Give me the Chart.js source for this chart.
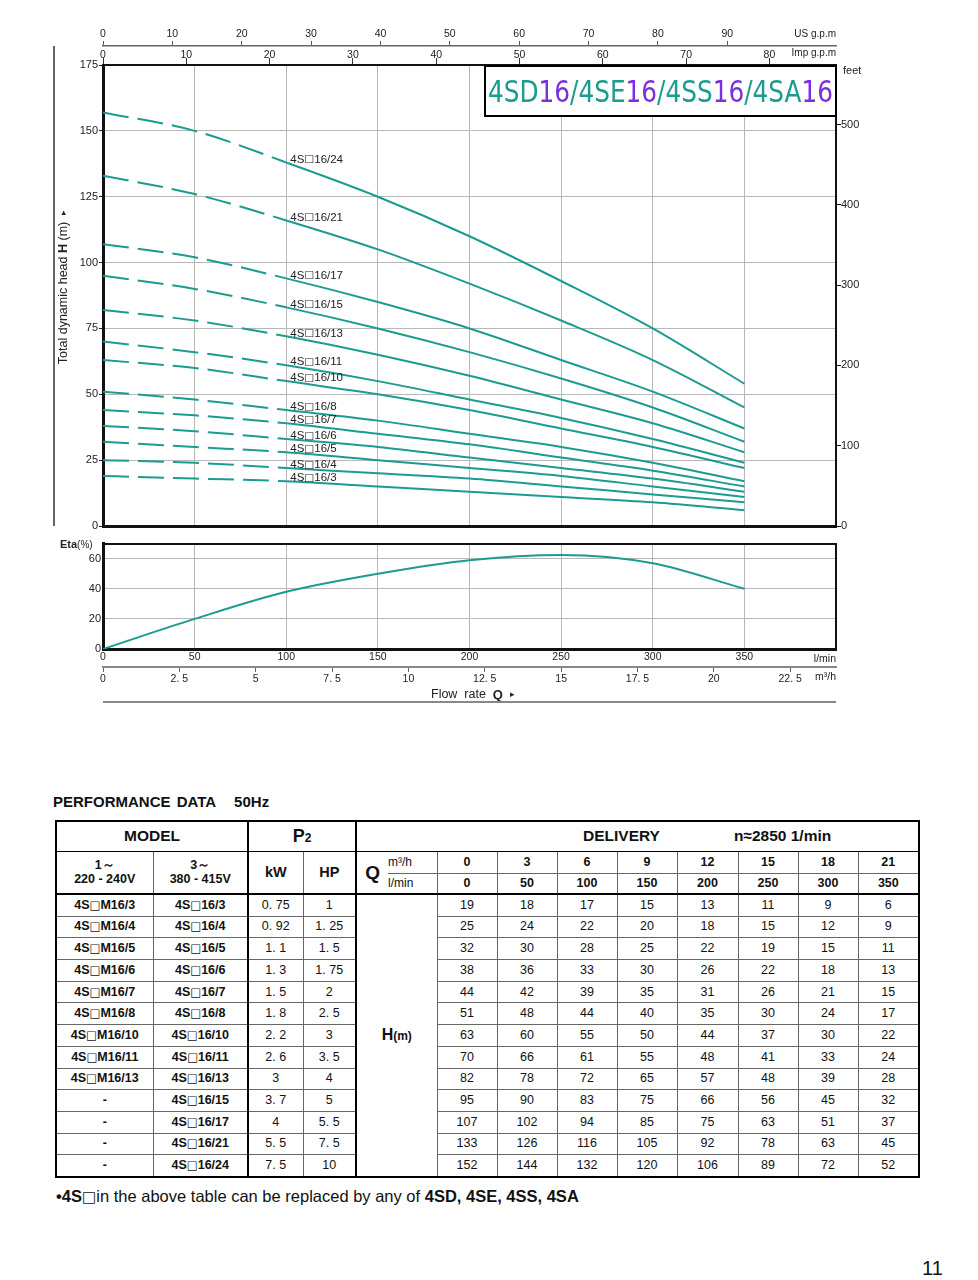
<!DOCTYPE html>
<html>
<head>
<meta charset="utf-8">
<script src="https://cdn.jsdelivr.net/npm/chart.js@4.4.1/dist/chart.umd.min.js"></script>
<style>
body { margin: 0; background: #fff; width: 978px; height: 1280px; position: relative; overflow: hidden;
  font-family: "Liberation Sans", Arial, sans-serif; color: #111; }
canvas { position: absolute; left: 0; }
#head { top: 0; }
#eta { top: 535px; }
.perf { position: absolute; left: 53px; top: 793px; font-weight: bold; font-size: 15px; word-spacing: 2px; }
.perf span { margin-left: 18px; }
table { position: absolute; left: 55px; top: 820px; width: 863px; border-collapse: collapse; table-layout: fixed; border: 2px solid #000; }
td { border: 1px solid #666; text-align: center; padding: 0; font-size: 12.5px; line-height: 1.05; white-space: nowrap; overflow: hidden; }
td.b { font-weight: bold; }
td.thick { border-right: 2px solid #000; }
tr.h1 td { font-weight: bold; font-size: 15.5px; height: 29px; border-bottom: 1px solid #000; }
tr.h2 td { height: 21px; }
tr.h3 td { height: 19px; border-bottom: 2px solid #000; }
tr.d td { height: 20.7px; }
.sq { font-family: "DejaVu Sans", sans-serif; font-weight: normal; font-size: 0.92em; }
.note { position: absolute; left: 56px; top: 1187px; font-size: 16.5px; }
.page { position: absolute; left: 922px; top: 1257px; font-size: 20px; }
</style>
</head>
<body>
<canvas id="head" width="978" height="535"></canvas>
<canvas id="eta" width="978" height="175"></canvas>

<div class="perf">PERFORMANCE DATA<span>50Hz</span></div>
<table id="perf"></table>
<div class="note"><b>•4S</b><span class="sq">□</span>in the above table can be replaced by any of <b>4SD, 4SE, 4SS, 4SA</b></div>
<div class="page">11</div>

<script>
// flow points (table columns)
const flowLmin = [0, 50, 100, 150, 200, 250, 300, 350];
const flowM3h = [0, 3, 6, 9, 12, 15, 18, 21];

const models3ph = ["4S□16/3", "4S□16/4", "4S□16/5", "4S□16/6", "4S□16/7", "4S□16/8", "4S□16/10",
  "4S□16/11", "4S□16/13", "4S□16/15", "4S□16/17", "4S□16/21", "4S□16/24"];
const models1ph = ["4S□M16/3", "4S□M16/4", "4S□M16/5", "4S□M16/6", "4S□M16/7", "4S□M16/8", "4S□M16/10",
  "4S□M16/11", "4S□M16/13", "-", "-", "-", "-"];
const powerKW = [0.75, 0.92, 1.1, 1.3, 1.5, 1.8, 2.2, 2.6, 3, 3.7, 4, 5.5, 7.5];
const powerHP = [1, 1.25, 1.5, 1.75, 2, 2.5, 3, 3.5, 4, 5, 5.5, 7.5, 10];

// H (m) per model
const head_3 = [19, 18, 17, 15, 13, 11, 9, 6];
const head_4 = [25, 24, 22, 20, 18, 15, 12, 9];
const head_5 = [32, 30, 28, 25, 22, 19, 15, 11];
const head_6 = [38, 36, 33, 30, 26, 22, 18, 13];
const head_7 = [44, 42, 39, 35, 31, 26, 21, 15];
const head_8 = [51, 48, 44, 40, 35, 30, 24, 17];
const head_10 = [63, 60, 55, 50, 44, 37, 30, 22];
const head_11 = [70, 66, 61, 55, 48, 41, 33, 24];
const head_13 = [82, 78, 72, 65, 57, 48, 39, 28];
const head_15 = [95, 90, 83, 75, 66, 56, 45, 32];
const head_17 = [107, 102, 94, 85, 75, 63, 51, 37];
const head_21 = [133, 126, 116, 105, 92, 78, 63, 45];
const head_24 = [152, 144, 132, 120, 106, 89, 72, 52];
// the /24 curve on the graph runs a bit above its table row
const curve_24 = [157, 150, 138, 125, 110, 93, 75, 54];

// efficiency curve
const etaValues = [0, 20, 38, 50, 59, 62.5, 57, 40];

const tableRows = [head_3, head_4, head_5, head_6, head_7, head_8, head_10, head_11, head_13, head_15, head_17, head_21, head_24];
const curveRows = [head_3, head_4, head_5, head_6, head_7, head_8, head_10, head_11, head_13, head_15, head_17, head_21, curve_24];

const TEAL = "#1c9b91";
const PURPLE = "#7a2fe0";
const GRID = "#b8b8b8";
const FONT = '"Liberation Sans", Arial, sans-serif';
const tickFont = { family: FONT, size: 11 };
const fmt = v => String(v).replace(".", ". ");
const sq = s => s.replace("□", '<span class="sq">□</span>');

Chart.defaults.animation = false;
Chart.defaults.responsive = false;
Chart.defaults.plugins.legend.display = false;
Chart.defaults.plugins.tooltip.enabled = false;
Chart.defaults.color = "#222";

// ---------- head chart ----------
const headSets = curveRows.map((row, i) => ({
  label: models3ph[i],
  data: flowLmin.map((q, k) => ({ x: q, y: row[k] })),
  borderColor: TEAL,
  borderWidth: 2,
  pointRadius: 0,
  cubicInterpolationMode: "monotone",
  segment: { borderDash: c => c.p0.parsed.x < 100 ? [26, 9] : undefined }
}));

const headDeco = {
  id: "headDeco",
  afterDatasetsDraw(chart) {
    const { ctx, scales: { x, y } } = chart;
    ctx.save();
    ctx.fillStyle = "#222";
    ctx.textBaseline = "middle";
    chart.data.datasets.forEach(ds => {
      const p = ds.data[2];
      let lx = x.getPixelForValue(p.x) + 4;
      const ly = y.getPixelForValue(p.y) - 3;
      // the box glyph comes from DejaVu so it has its full size
      ds.label.split(/(□)/).forEach(part => {
        ctx.font = part === "□" ? '10.5px "DejaVu Sans", sans-serif' : "11.5px " + FONT;
        ctx.fillText(part, lx, ly);
        lx += ctx.measureText(part).width;
      });
    });
    ctx.restore();
  },
  afterDraw(chart) {
    const { ctx, chartArea: a } = chart;
    ctx.save();
    // title box
    const bx = 485, bw = a.right - 485, bh = 51;
    ctx.fillStyle = "#fff";
    ctx.fillRect(bx, a.top, bw, bh);
    ctx.strokeStyle = "#000";
    ctx.lineWidth = 2;
    ctx.strokeRect(bx, a.top + 1, bw, bh - 1);
    const parts = [["4SD", TEAL], ["16", PURPLE], ["/4SE", TEAL], ["16", PURPLE], ["/4SS", TEAL], ["16", PURPLE], ["/4SA", TEAL], ["16", PURPLE]];
    ctx.font = '30px "DejaVu Sans Condensed", "DejaVu Sans", sans-serif';
    const total = parts.reduce((s, p) => s + ctx.measureText(p[0]).width, 0);
    const sx = (bw - 6) / total;
    ctx.translate(bx + 3, a.top + 37);
    ctx.scale(sx, 1);
    let cx = 0;
    ctx.textBaseline = "alphabetic";
    parts.forEach(p => { ctx.fillStyle = p[1]; ctx.fillText(p[0], cx, 0); cx += ctx.measureText(p[0]).width; });
    ctx.restore();

    ctx.save();
    ctx.fillStyle = "#222";
    ctx.font = "10px " + FONT;
    ctx.textAlign = "right";
    ctx.textBaseline = "middle";
    ctx.fillText("US g.p.m", a.right, 34);
    ctx.fillText("Imp g.p.m", a.right, 53);
    ctx.textAlign = "left";
    ctx.font = "11px " + FONT;
    ctx.fillText("feet", a.right + 7, 71);
    // decorative left rule
    ctx.strokeStyle = "#333";
    ctx.lineWidth = 1.5;
    ctx.beginPath(); ctx.moveTo(54, 46); ctx.lineTo(54, a.bottom); ctx.stroke();
    // rotated axis title
    ctx.translate(64, 287);
    ctx.rotate(-Math.PI / 2);
    const tp = [["Total dynamic head ", "12.5px " + FONT], ["H", "bold 12.5px " + FONT], [" (m)  ", "12.5px " + FONT], ["▸", "9px " + FONT]];
    let w = 0;
    tp.forEach(p => { ctx.font = p[1]; w += ctx.measureText(p[0]).width; });
    let tx = -w / 2;
    tp.forEach(p => { ctx.font = p[1]; ctx.fillText(p[0], tx, 0); tx += ctx.measureText(p[0]).width; });
    ctx.restore();
  }
};

new Chart(document.getElementById("head"), {
  type: "line",
  data: { datasets: headSets },
  options: {
    layout: { padding: { top: 25, bottom: 9, left: 0, right: 0 } },
    scales: {
      x: {
        type: "linear", position: "bottom", min: 0, max: 400,
        ticks: { display: false, stepSize: 50 },
        grid: { color: GRID, drawTicks: false },
        border: { color: "#111", width: 3 },
        afterFit: s => { s.height = 0; }
      },
      y: {
        type: "linear", position: "left", min: 0, max: 175,
        ticks: { stepSize: 25, font: tickFont, padding: 1 },
        grid: { color: GRID, tickColor: "#222", tickLength: 4 },
        border: { color: "#111", width: 3 },
        afterFit: s => { s.width = 103; }
      },
      yFeet: {
        type: "linear", position: "right", min: 0, max: 175 * 3.28084,
        ticks: { stepSize: 100, includeBounds: false, font: tickFont, padding: 0 },
        grid: { drawOnChartArea: false, tickColor: "#111", tickLength: 5 },
        border: { color: "#111", width: 2 },
        afterFit: s => { s.width = 142; }
      },
      xImp: {
        type: "linear", position: "top", weight: 1, min: 0, max: 400 / 4.54609,
        ticks: { stepSize: 10, includeBounds: false, font: { family: FONT, size: 10.5 }, padding: -3 },
        afterBuildTicks: s => { s.ticks = s.ticks.filter(t => t.value <= 80); },
        grid: { drawOnChartArea: false, tickColor: "#333", tickLength: 7 },
        border: { color: "#111", width: 2 },
        afterFit: s => { s.height = 19; }
      },
      xUS: {
        type: "linear", position: "top", weight: 2, min: 0, max: 400 / 3.78541,
        ticks: { stepSize: 10, includeBounds: false, font: { family: FONT, size: 10.5 }, padding: 1 },
        afterBuildTicks: s => { s.ticks = s.ticks.filter(t => t.value <= 90); },
        grid: { drawOnChartArea: false, tickColor: "#555", tickLength: 5 },
        border: { color: "#666", width: 1.5 },
        afterFit: s => { s.height = 21; }
      }
    }
  },
  plugins: [headDeco]
});

// ---------- efficiency chart ----------
const etaDeco = {
  id: "etaDeco",
  afterDraw(chart) {
    const { ctx, chartArea: a } = chart;
    ctx.save();
    ctx.fillStyle = "#222";
    ctx.textBaseline = "middle";
    ctx.font = "bold 11px " + FONT;
    ctx.fillText("Eta", 60, 10);
    const ew = ctx.measureText("Eta").width;
    ctx.font = "10px " + FONT;
    ctx.fillText("(%)", 60 + ew, 10);
    ctx.textAlign = "right";
    ctx.font = "10.5px " + FONT;
    ctx.fillText("l/min", a.right, 124);
    ctx.fillText("m³/h", a.right, 142);
    // flow rate caption
    ctx.textAlign = "left";
    const fp = [["Flow  rate  ", "12.5px " + FONT], ["Q", "bold 13px " + FONT], ["   ▸", "9px " + FONT]];
    let fx = 431;
    fp.forEach(p => { ctx.font = p[1]; ctx.fillText(p[0], fx, 160); fx += ctx.measureText(p[0]).width; });
    ctx.strokeStyle = "#888";
    ctx.lineWidth = 2;
    ctx.beginPath(); ctx.moveTo(a.left, 167); ctx.lineTo(a.right, 167); ctx.stroke();
    ctx.restore();
  }
};

new Chart(document.getElementById("eta"), {
  type: "line",
  data: {
    datasets: [{
      label: "Eta",
      data: flowLmin.map((q, k) => ({ x: q, y: etaValues[k] })),
      borderColor: TEAL, borderWidth: 2, pointRadius: 0,
      cubicInterpolationMode: "monotone"
    }]
  },
  options: {
    layout: { padding: { top: 6, bottom: 25, left: 0, right: 0 } },
    scales: {
      x: {
        type: "linear", position: "bottom", weight: 0, min: 0, max: 400,
        ticks: { stepSize: 50, font: { family: FONT, size: 10.5 }, padding: 2, callback: v => v < 400 ? v : "" },
        grid: { color: GRID, drawTicks: false },
        border: { color: "#111", width: 3 },
        afterFit: s => { s.height = 18; }
      },
      xM3: {
        type: "linear", position: "bottom", weight: 1, min: 0, max: 24,
        ticks: { stepSize: 2.5, includeBounds: false, font: { family: FONT, size: 10.5 }, padding: 1, callback: v => fmt(v) },
        grid: { drawOnChartArea: false, tickColor: "#666", tickLength: 5 },
        border: { color: "#888", width: 2 },
        afterFit: s => { s.height = 18; }
      },
      xTop: {
        type: "linear", position: "top", min: 0, max: 400,
        ticks: { display: false },
        grid: { drawOnChartArea: false, drawTicks: false },
        border: { color: "#111", width: 2 },
        afterFit: s => { s.height = 0; }
      },
      y: {
        type: "linear", position: "left", min: 0, max: 70,
        ticks: { stepSize: 10, font: tickFont, padding: 2, callback: v => v % 20 === 0 ? v : "" },
        grid: { color: GRID, drawTicks: false },
        border: { color: "#111", width: 3 },
        afterFit: s => { s.width = 103; }
      },
      yR: {
        type: "linear", position: "right", min: 0, max: 1,
        ticks: { display: false },
        grid: { drawOnChartArea: false, drawTicks: false },
        border: { color: "#111", width: 2 },
        afterFit: s => { s.width = 142; }
      }
    }
  },
  plugins: [etaDeco]
});

// ---------- performance table ----------
const tbl = document.getElementById("perf");
let html = "<colgroup>" + [97, 95, 55, 53, 32, 49, 60, 60, 60, 60, 61, 60, 60, 61].map(w => `<col style="width:${w}px">`).join("") + "</colgroup>";
html += `<tr class="h1"><td colspan="2" class="thick">MODEL</td><td colspan="2" class="thick" style="font-size:18px">P<span style="font-size:12px">2</span></td>` +
  `<td colspan="10" style="text-align:left"><span style="margin-left:226px">DELIVERY</span><span style="margin-left:74px">n≈2850 1/min</span></td></tr>`;
html += `<tr class="h2"><td rowspan="2" class="b" style="border-bottom:2px solid #000">1～<br>220 - 240V</td>` +
  `<td rowspan="2" class="b thick" style="border-bottom:2px solid #000">3～<br>380 - 415V</td>` +
  `<td rowspan="2" class="b" style="font-size:14.5px;border-bottom:2px solid #000">kW</td>` +
  `<td rowspan="2" class="b thick" style="font-size:14.5px;border-bottom:2px solid #000">HP</td>` +
  `<td rowspan="2" class="b" style="font-size:19px;border-right:none;border-bottom:2px solid #000">Q</td>` +
  `<td style="border-left:none;text-align:left;font-size:12px">m³/h</td>` +
  flowM3h.map(v => `<td class="b">${v}</td>`).join("") + "</tr>";
html += `<tr class="h3"><td style="border-left:none;text-align:left;font-size:12px">l/min</td>` +
  flowLmin.map(v => `<td class="b">${v}</td>`).join("") + "</tr>";
tableRows.forEach((row, i) => {
  html += `<tr class="d"><td class="b">${sq(models1ph[i])}</td><td class="b thick">${sq(models3ph[i])}</td>` +
    `<td>${fmt(powerKW[i])}</td><td class="thick">${fmt(powerHP[i])}</td>`;
  if (i === 0) html += `<td colspan="2" rowspan="${tableRows.length}" class="b" style="font-size:16px">H<span style="font-size:12px">(m)</span></td>`;
  html += row.map(v => `<td>${v}</td>`).join("") + "</tr>";
});
tbl.innerHTML = html;
</script>
</body>
</html>
